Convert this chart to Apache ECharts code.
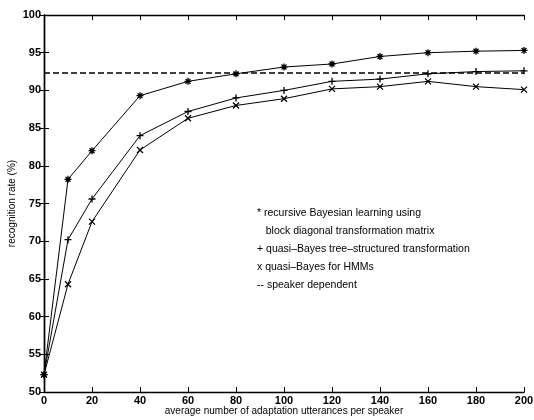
<!DOCTYPE html>
<html>
<head>
<meta charset="utf-8">
<script src="https://cdn.jsdelivr.net/npm/echarts@6/dist/echarts.min.js"></script>
<style>
  html, body { margin: 0; padding: 0; background: #fff; }
  #chart { width: 534px; height: 420px; }
</style>
</head>
<body>
<div id="chart"></div>
<script>
// utterances per speaker
const xs = [0, 10, 20, 40, 60, 80, 100, 120, 140, 160, 180, 200]
// recognition rate (%)
const recursiveBayes = [52.3, 78.2, 82.0, 89.3, 91.2, 92.2, 93.1, 93.5, 94.5, 95.0, 95.2, 95.3]
const treeStructured = [52.3, 70.2, 75.6, 84.0, 87.2, 89.0, 90.0, 91.2, 91.5, 92.2, 92.5, 92.6]
const qbHmm = [52.3, 64.3, 72.6, 82.1, 86.3, 88.0, 88.9, 90.2, 90.5, 91.2, 90.5, 90.1]
const speakerDependent = 92.3
const legendLines = [
  '* recursive Bayesian learning using',
  '   block diagonal transformation matrix',
  '+ quasi\u2013Bayes tree\u2013structured transformation',
  'x quasi\u2013Bayes for HMMs',
  '-- speaker dependent',
]

const pair = (vals) => xs.map((x, i) => [x, vals[i]])

const starPath = 'path://M5 0L5 10M0 5L10 5M1.5 1.5L8.5 8.5M8.5 1.5L1.5 8.5'
const plusPath = 'path://M5 0L5 10M0 5L10 5'
const crossPath = 'path://M0 0L10 10M10 0L0 10'

const font = 'Liberation Sans, Arial, sans-serif'

function lineSeries(name, vals, symbol, size) {
  return {
    name,
    type: 'line',
    data: pair(vals),
    symbol,
    symbolSize: size,
    showSymbol: true,
    lineStyle: { color: '#000', width: 1 },
    itemStyle: { color: '#000', borderColor: '#000', borderWidth: 1.3 },
    emphasis: { disabled: true },
    z: 3,
  }
}

const chart = echarts.init(document.getElementById('chart'))

const baseX = {
  type: 'value',
  min: 0,
  max: 200,
  interval: 20,
  splitLine: { show: false },
  axisLine: { show: true, lineStyle: { color: '#000', width: 1.4 } },
  axisTick: { inside: true, length: 5, lineStyle: { color: '#000' } },
}
const baseY = {
  type: 'value',
  min: 50,
  max: 100,
  interval: 5,
  splitLine: { show: false },
  axisLine: { show: true, lineStyle: { color: '#000', width: 1.4 } },
  axisTick: { inside: true, length: 5, lineStyle: { color: '#000' } },
}

const option = {
  backgroundColor: '#fff',
  animation: false,
  grid: { left: 44, right: 10, top: 15, bottom: 28, containLabel: false, outerBoundsMode: 'none' },
  xAxis: [
    Object.assign({}, baseX, {
      position: 'bottom',
      name: 'average number of adaptation utterances per speaker',
      nameLocation: 'middle',
      nameGap: 14,
      nameMoveOverlap: false,
      nameTextStyle: { color: '#000', fontFamily: font, fontSize: 10 },
      axisLabel: { color: '#000', fontFamily: font, fontSize: 11, fontWeight: 'bold', margin: 3 },
    }),
    Object.assign({}, baseX, { position: 'top', axisLabel: { show: false } }),
  ],
  yAxis: [
    Object.assign({}, baseY, {
      position: 'left',
      name: 'recognition rate (%)',
      nameLocation: 'middle',
      nameGap: 27,
      nameMoveOverlap: false,
      nameTextStyle: { color: '#000', fontFamily: font, fontSize: 10 },
      axisLabel: { color: '#000', fontFamily: font, fontSize: 11, fontWeight: 'bold', margin: 3 },
    }),
    Object.assign({}, baseY, { position: 'right', axisLabel: { show: false } }),
  ],
  series: [
    lineSeries('recursive Bayesian learning', recursiveBayes, starPath, 7),
    lineSeries('quasi-Bayes tree-structured transformation', treeStructured, plusPath, 7),
    lineSeries('quasi-Bayes for HMMs', qbHmm, crossPath, 6),
    {
      name: 'speaker dependent',
      type: 'line',
      data: [[0, speakerDependent], [200, speakerDependent]],
      symbol: 'none',
      lineStyle: { color: '#000', width: 1.5, type: [6, 3] },
      emphasis: { disabled: true },
      z: 2,
    },
  ],
  graphic: legendLines.map((t, i) => ({
    type: 'text',
    left: 257,
    top: [208, 226, 244, 262, 280][i],
    style: { text: t, fill: '#000', font: '10.5px ' + font },
  })),
}

chart.setOption(option)
</script>
</body>
</html>
